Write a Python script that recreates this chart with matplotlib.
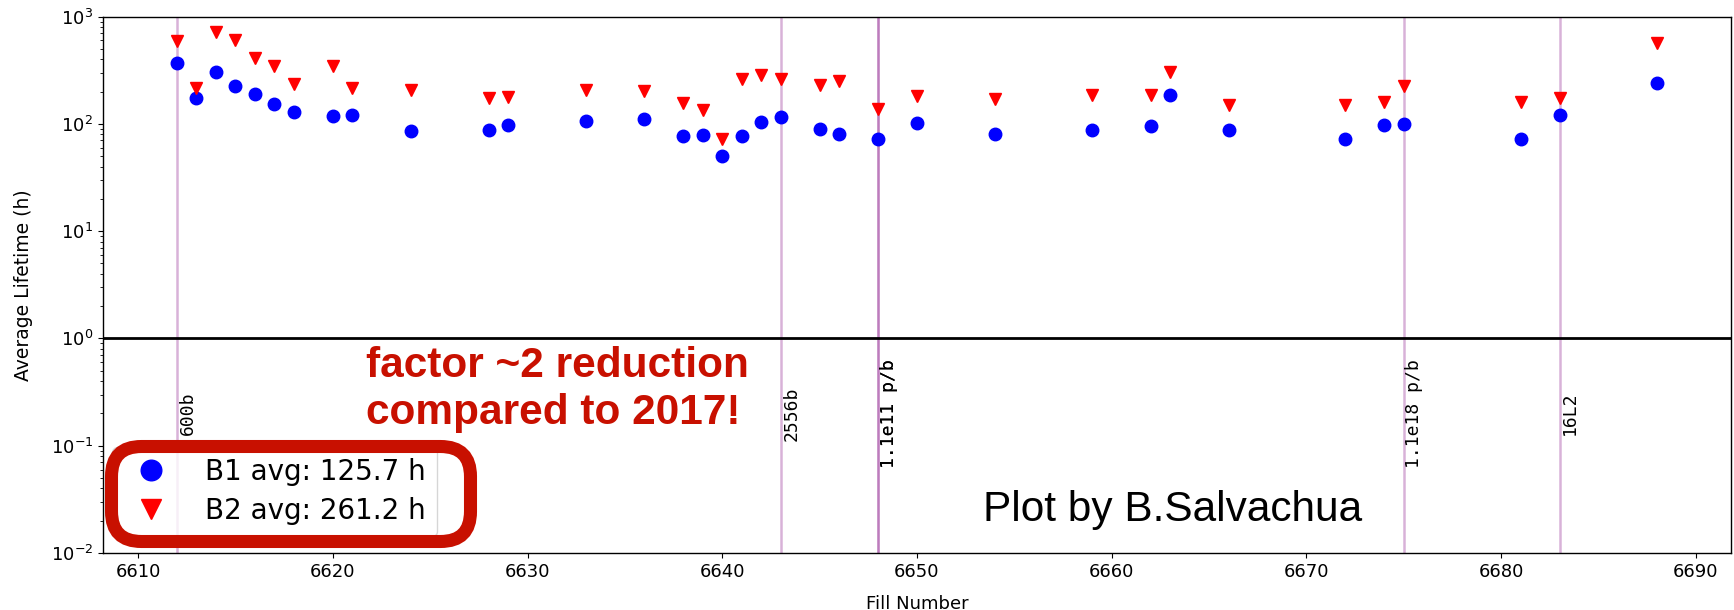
import matplotlib
matplotlib.use("Agg")
import matplotlib.pyplot as plt
from matplotlib.patches import FancyBboxPatch
from matplotlib.transforms import IdentityTransform

# ---- data ----
fills = [6612, 6613, 6614, 6615, 6616, 6617, 6618, 6620, 6621, 6624,
         6628, 6629, 6633, 6636, 6638, 6639, 6640, 6641, 6642, 6643,
         6645, 6646, 6648, 6650, 6654, 6659, 6662, 6663, 6666, 6672,
         6674, 6675, 6681, 6683, 6688]
b1_lifetime = [369, 173, 305, 225, 190, 153, 130, 118, 120, 85,
               87, 98, 107, 110, 77, 78, 50, 77, 105, 115,
               89, 81, 73, 102, 81, 87, 95, 186, 87, 73,
               98, 100, 73, 120, 240]
b2_lifetime = [593, 214, 718, 606, 415, 344, 235, 344, 214, 209,
               173, 177, 209, 204, 157, 136, 72, 264, 284, 264,
               230, 252, 139, 181, 169, 186, 186, 305, 150, 150,
               161, 224, 161, 173, 565]
b1_label = "B1 avg: 125.7 h"
b2_label = "B2 avg: 261.2 h"

event_fills = [6612, 6643, 6648, 6648, 6675, 6683]
event_labels = ["600b", "2556b", "1.1e11 p/b", "1.1e11 p/b", "1.1e18 p/b", "16L2"]

annotation_text = ["factor ~2 reduction", "compared to 2017!"]
credit_text = "Plot by B.Salvachua"

# ---- figure ----
W, H, DPI = 1734, 610, 100
fig = plt.figure(figsize=(W / DPI, H / DPI), dpi=DPI)
ax = fig.add_axes([103 / W, (H - 553) / H, 1628 / W, (553 - 16.6) / H])

ax.set_yscale("log")
ax.set_ylim(1e-2, 1e3)
ax.set_xlim(6608.2, 6691.8)

for xf, lab in zip(event_fills, event_labels):
    ax.axvline(xf, color="purple", alpha=0.3, lw=1.8, zorder=1)
    ax.text(xf + 0.08, 0.2, lab, rotation=90, ha="left", va="center",
            family="DejaVu Sans Mono", fontsize=13, color="black", zorder=3)

ax.axhline(1.0, color="black", lw=2.0, zorder=2)

ax.plot(fills, b1_lifetime, "o", color="blue", ms=9, label=b1_label, zorder=4)
ax.plot(fills, b2_lifetime, "v", color="red", ms=9, label=b2_label, zorder=4)

ax.set_xticks(range(6610, 6691, 10))
ax.tick_params(axis="both", labelsize=13)
ax.set_xlabel("Fill Number", fontsize=13, labelpad=10)
ax.set_ylabel("Average Lifetime (h)", fontsize=13.5, labelpad=13)
for s in ax.spines.values():
    s.set_linewidth(1.0)

leg = ax.legend(loc="upper left", bbox_to_anchor=(112 / W, 1 - 447 / H),
                bbox_transform=fig.transFigure, borderaxespad=0,
                fontsize=20, markerscale=1.65, labelspacing=0.4,
                handletextpad=0.95, frameon=True, edgecolor="#cccccc")

# red rounded highlight box around the legend (pixel coordinates)
box = FancyBboxPatch((111.5, H - 541.5), 359, 95,
                     boxstyle="round,pad=0,rounding_size=30",
                     transform=IdentityTransform(), fill=False,
                     edgecolor="#c81000", lw=9.4, zorder=5)
fig.patches.append(box)
box.set_figure(fig)

red = "#c81000"
fig.text(366 / W, 1 - 377 / H, annotation_text[0], color=red,
         family="Liberation Sans", weight="bold", fontsize=30.5,
         ha="left", va="baseline")
fig.text(366 / W, 1 - 424 / H, annotation_text[1], color=red,
         family="Liberation Sans", weight="bold", fontsize=30.5,
         ha="left", va="baseline")
fig.text(983 / W, 1 - 521 / H, credit_text, color="black",
         family="Liberation Sans", fontsize=30.5, ha="left", va="baseline")

fig.savefig("out.png", dpi=DPI)
